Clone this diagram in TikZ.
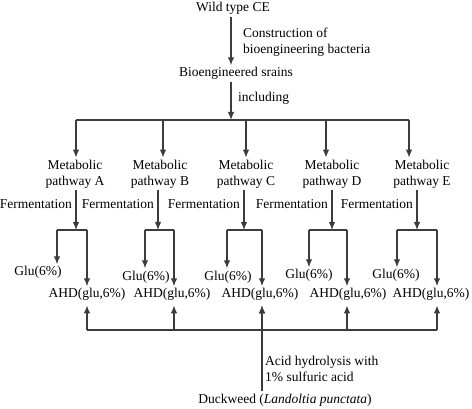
\documentclass[tikz,border=0pt]{standalone}
\usepackage{fontspec}
\setmainfont{Liberation Serif}
\usepackage{tikz}
\usetikzlibrary{arrows.meta}
\usetikzlibrary{calc}
\definecolor{linegray}{RGB}{60,60,60}

\begin{document}
\begin{tikzpicture}[x=1pt,y=-1pt,
    every node/.style={font=\fontsize{13.5}{16}\selectfont, inner sep=2pt},
    txt/.style={text height=9.5pt, text depth=3.2pt},
    pathnode/.style={align=center},
    arr/.style={draw=linegray, line width=1.3pt, -{Latex[length=8pt,width=6.5pt]}},
    ln/.style={draw=linegray, line width=1.3pt}]
            \useasboundingbox (0,0) rectangle (472,409);
            % top part
            \node[txt, anchor=base] (wild) at (233,12) {Wild type CE};
            \node[txt, anchor=base] (strains) at (236,77) {Bioengineered srains};
            \coordinate (trunk) at (231,120);
            \draw[arr] (wild.south -| trunk) -- (strains.north -| trunk);
            \draw[arr] (strains.south -| trunk) -- (trunk);
            \node[align=left, anchor=west] (construct) at (241,42) {Construction of\\bioengineering bacteria};
            \node[txt, anchor=base west] (including) at (236,102) {including};
            \coordinate (topA) at (76,120);
            \coordinate (topE) at (409,120);
            \draw[ln] (topA) -- (topE);
            % the five pathways
            \foreach \p/\tx/\px/\lx/\bl/\br/\gx/\gy/\ax in {A/76/75/76/57/87/38/276/87,
                B/163/160/158/145/174/146/280/172, C/246/246/244/227/262/228/280/260,
                D/326/332/332/309/347/309/279/348, E/409/422/417/397/437/396/279/431}{
                \node[pathnode] (path\p) at (\px,174) {Metabolic\\pathway \p};
                \coordinate (top\p) at (\tx,120);
                \draw[arr] (top\p) -- (top\p |- path\p.north);
                \node[txt, anchor=base east] (ferm\p) at (\lx-2,209) {Fermentation};
                \coordinate (split\p) at (\lx,230);
                \draw[arr] (path\p.south -| split\p) -- (split\p);
                \node[txt, anchor=base] (glu\p) at (\gx,\gy) {Glu(6\%)};
                \node[txt, anchor=base] (ahd\p) at (\ax,298) {AHD(glu,6\%)};
                \coordinate (l\p) at (\bl,230);
                \coordinate (r\p) at (\br,230);
                \draw[ln] (l\p) -- (r\p);
                \draw[arr] (l\p) -- (l\p |- glu\p.north);
                \draw[arr] (r\p) -- (r\p |- ahd\p.north);
                \coordinate (b\p) at (\br,330);
                \draw[arr, shorten >=2pt] (b\p) -- (b\p |- ahd\p.south);
            }
            % bottom part
            \draw[ln] (bA) -- (bE);
            \node[txt, anchor=base] (duck) at (285,403) {Duckweed (\textit{Landoltia punctata})};
            \node[align=left, anchor=west] (acid) at (263,369) {Acid hydrolysis with\\1\% sulfuric acid};
            \draw[arr, shorten >=2pt] (duck.north -| bC) -- (bC |- ahdC.south);
        \end{tikzpicture}
\end{document}
